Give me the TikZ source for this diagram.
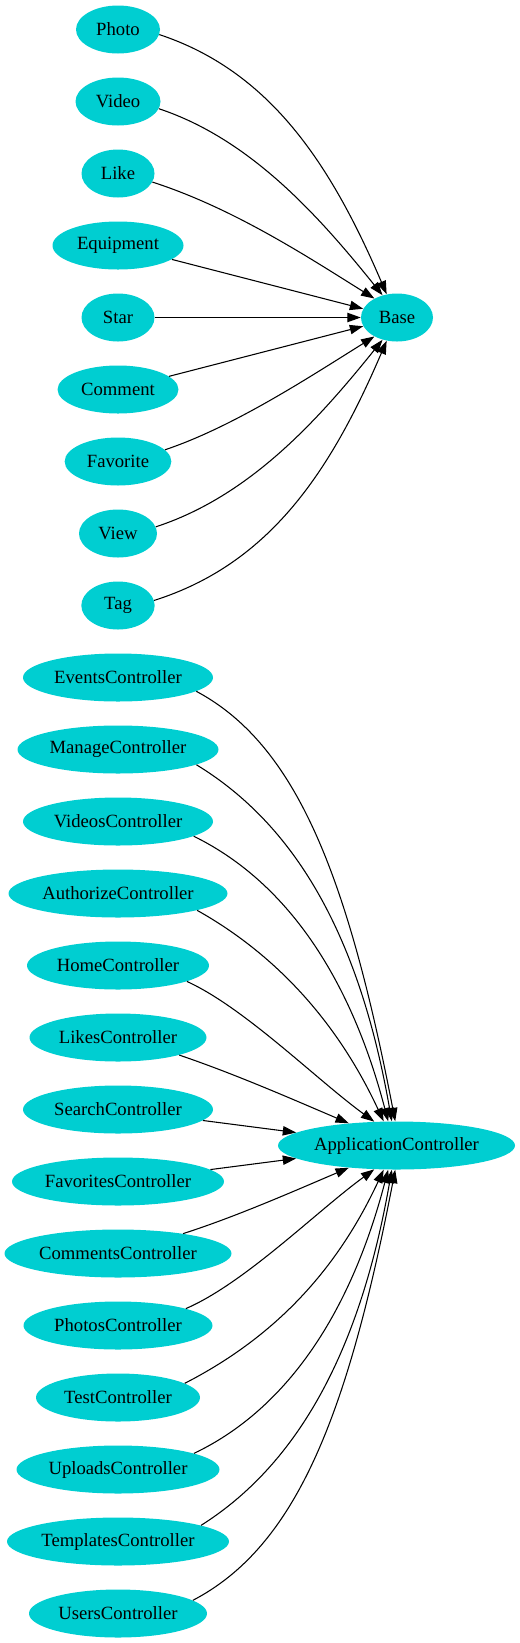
\documentclass[tikz,border=0pt]{standalone}
\usepackage{fontspec}
\setmainfont{Liberation Serif}
\usetikzlibrary{arrows.meta,shapes.geometric}
\definecolor{dturq}{RGB}{0,206,209}
\begin{document}
\begin{tikzpicture}[x=0.75pt,y=-0.75pt,
  nd/.style={ellipse, fill=dturq, draw=none, inner sep=0pt, minimum height=36pt,
             font=\fontsize{14pt}{16pt}\selectfont},
  ed/.style={draw=black, line width=0.8pt, -{Triangle[length=10pt,width=7pt]}}]
\useasboundingbox (0,0) rectangle (520,1643);

% model nodes
\node[nd, minimum width=63pt]    (photo)     at (118,29.5)  {Photo};
\node[nd, minimum width=63.75pt] (video)     at (118,101.5) {Video};
\node[nd, minimum width=54.75pt] (like)      at (118,173.5) {Like};
\node[nd, minimum width=98.25pt] (equipment) at (118,245.5) {Equipment};
\node[nd, minimum width=54.75pt] (star)      at (118,317.5) {Star};
\node[nd, minimum width=90.75pt] (comment)   at (118,389.5) {Comment};
\node[nd, minimum width=80pt]    (favorite)  at (118,461.5) {Favorite};
\node[nd, minimum width=58.5pt]  (view)      at (118,533.5) {View};
\node[nd, minimum width=55pt]    (tag)       at (118,605.5) {Tag};
\node[nd, minimum width=54pt]    (base)      at (397,317.5) {Base};

% controllers
\node[nd, minimum width=142.5pt]  (events)    at (118,677.5)  {EventsController};
\node[nd, minimum width=150.75pt] (manage)    at (118,749.5)  {ManageController};
\node[nd, minimum width=142.5pt]  (videos)    at (118,821.5)  {VideosController};
\node[nd, minimum width=164.25pt] (authorize) at (118,893.5)  {AuthorizeController};
\node[nd, minimum width=136.5pt]  (home)      at (118,965.5)  {HomeController};
\node[nd, minimum width=132.75pt] (likes)     at (118,1037.5) {LikesController};
\node[nd, minimum width=142.5pt]  (search)    at (118,1109.5) {SearchController};
\node[nd, minimum width=159pt]    (favorites) at (118,1181.5) {FavoritesController};
\node[nd, minimum width=170.25pt] (comments)  at (118,1253.5) {CommentsController};
\node[nd, minimum width=141.75pt] (photos)    at (118,1325.5) {PhotosController};
\node[nd, minimum width=123pt]    (test)      at (118,1397.5) {TestController};
\node[nd, minimum width=152.25pt] (uploads)   at (118,1469.5) {UploadsController};
\node[nd, minimum width=166.5pt]  (templates) at (118,1541.5) {TemplatesController};
\node[nd, minimum width=133.5pt]  (users)     at (118,1613.5) {UsersController};
\node[nd, minimum width=177.75pt] (app)       at (396.5,1145.5) {ApplicationController};

% edges to Base
\draw[ed] (photo.-7.6)  .. controls (269,71)  and (330,162) .. (base.114);
\draw[ed] (video.-10.5) .. controls (250,139) and (318,215) .. (base.123);
\draw[ed] (like.-14)    .. controls (233,208) and (308,257) .. (base.140);
\draw[ed] (equipment) -- (base);
\draw[ed] (star) -- (base);
\draw[ed] (comment) -- (base);
\draw[ed] (favorite.14.3) .. controls (233,427) and (308,378) .. (base.-140);
\draw[ed] (view.10.1)     .. controls (250,496) and (318,420) .. (base.-123);
\draw[ed] (tag.8.6)       .. controls (269,564) and (330,473) .. (base.-114);

% edges to ApplicationController
\draw[ed] (events.-10.4)    .. controls (295,744)  and (347,872)  .. (app.93.6);
\draw[ed] (manage.-11.1)    .. controls (287,820)  and (357,922)  .. (app.101.3);
\draw[ed] (videos.-11.5)    .. controls (283,880)  and (349,972)  .. (app.109);
\draw[ed] (authorize.-12.8) .. controls (275,954)  and (337,1021) .. (app.118.8);
\draw[ed] (home.-13.6)      .. controls (245,1008) and (317,1080) .. (app.133.3);
\draw[ed] (likes.-16.6)     .. controls (235,1074) and (292,1099) .. (app.155);
\draw[ed] (search) -- (app);
\draw[ed] (favorites) -- (app);
\draw[ed] (comments.17.3)   .. controls (235,1217) and (292,1192) .. (app.-155);
\draw[ed] (photos.14)       .. controls (245,1283) and (317,1211) .. (app.-133.3);
\draw[ed] (test.12)         .. controls (275,1337) and (337,1270) .. (app.-118.8);
\draw[ed] (uploads.12)      .. controls (283,1411) and (349,1319) .. (app.-109);
\draw[ed] (templates.11.8)  .. controls (287,1471) and (357,1369) .. (app.-101.3);
\draw[ed] (users.10.5)      .. controls (295,1547) and (347,1419) .. (app.-93.6);
\end{tikzpicture}
\end{document}
